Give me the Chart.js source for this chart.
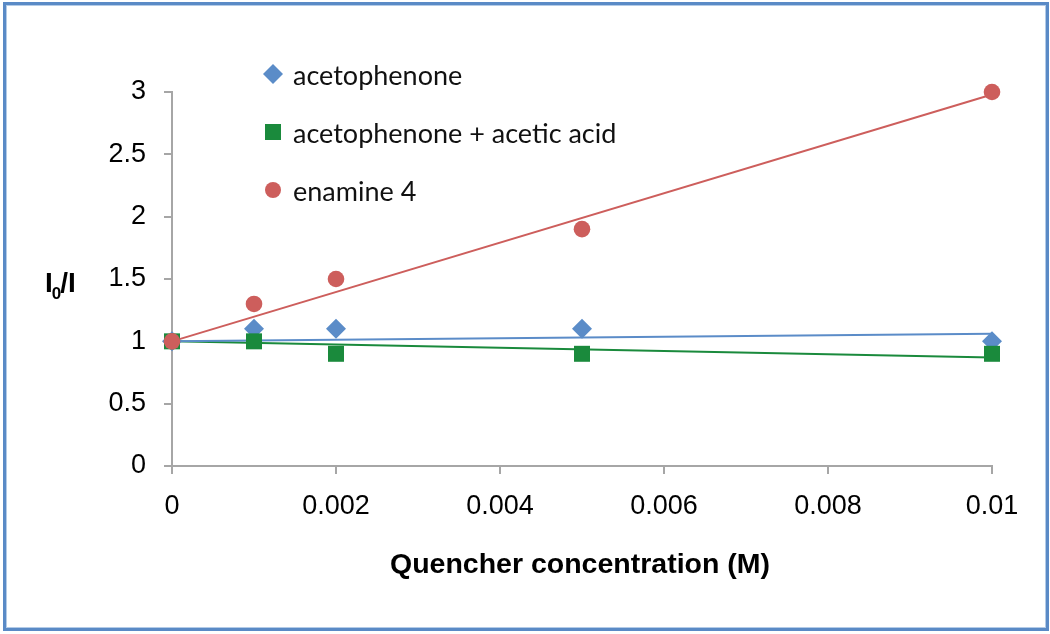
<!DOCTYPE html>
<html>
<head>
<meta charset="utf-8">
<script src="https://cdn.jsdelivr.net/npm/chart.js@4/dist/chart.umd.min.js"></script>
<style>
  html, body { margin: 0; padding: 0; background: #ffffff; }
  #wrap { width: 1050px; height: 634px; position: relative; }
</style>
</head>
<body>
<div id="wrap"><canvas id="c" width="1050" height="634"></canvas></div>
<script>
// ---- data ----
const concentrations = [0, 0.001, 0.002, 0.005, 0.01];
const acetophenone = [1.0, 1.1, 1.1, 1.1, 1.0];
const acetophenoneAcid = [1.0, 1.0, 0.9, 0.9, 0.9];
const enamine4 = [1.0, 1.3, 1.5, 1.9, 3.0];

const trendX = [0, 0.01];
const trendAcetophenone = [1.0, 1.06];
const trendAcetophenoneAcid = [1.0, 0.87];
const trendEnamine4 = [1.0, 2.98];

const seriesNames = ['acetophenone', 'acetophenone + acetic acid', 'enamine 4'];
const xTickLabels = ['0', '0.002', '0.004', '0.006', '0.008', '0.01'];
const yTickLabels = ['0', '0.5', '1', '1.5', '2', '2.5', '3'];
const xTitle = 'Quencher concentration (M)';

// ---- styles ----
const BLUE = '#5B8CC8';
const GREEN = '#1A8A3C';
const RED = '#CD5E5C';
const AXIS = '#A6A6A6';

function pts(xs, ys) { return xs.map((x, i) => ({ x: x, y: ys[i] })); }

const pointSets = [
  { name: seriesNames[0], data: acetophenone, color: BLUE, style: 'rectRot', r: 10, order: 3 },
  { name: seriesNames[1], data: acetophenoneAcid, color: GREEN, style: 'rect', r: 11.3, order: 2 },
  { name: seriesNames[2], data: enamine4, color: RED, style: 'circle', r: 8.3, order: 1 }
];
const trendSets = [
  { data: trendAcetophenone, color: BLUE },
  { data: trendAcetophenoneAcid, color: GREEN },
  { data: trendEnamine4, color: RED }
];

const datasets = [];
trendSets.forEach((t, i) => {
  datasets.push({
    type: 'line',
    label: 'trend ' + i,
    data: pts(trendX, t.data),
    borderColor: t.color,
    borderWidth: 2,
    pointRadius: 0,
    fill: false,
    clip: false,
    order: 10 + i
  });
});
pointSets.forEach(s => {
  datasets.push({
    type: 'scatter',
    label: s.name,
    data: pts(concentrations, s.data),
    backgroundColor: s.color,
    borderColor: s.color,
    borderWidth: 0,
    pointStyle: s.style,
    pointRadius: s.r,
    pointHoverRadius: s.r,
    showLine: false,
    clip: false,
    order: s.order
  });
});

const decorPlugin = {
  id: 'decor',
  afterDraw(chart) {
    const ctx = chart.ctx;
    ctx.save();
    // outer border
    ctx.strokeStyle = '#5A8AC6';
    ctx.lineWidth = 3;
    ctx.strokeRect(4.5, 3.5, 1043, 626);
    ctx.strokeStyle = 'rgba(160,190,225,0.8)';
    ctx.lineWidth = 1;
    ctx.strokeRect(6.5, 5.5, 1039, 622);

    // x axis title
    ctx.fillStyle = '#000';
    ctx.font = 'bold 28.5px "Liberation Sans", Arial, sans-serif';
    ctx.textAlign = 'center';
    ctx.textBaseline = 'alphabetic';
    ctx.fillText(xTitle, 580, 573);

    // y axis title I0/I
    ctx.textAlign = 'left';
    let x = 45;
    ctx.font = 'bold 28px "Liberation Sans", Arial, sans-serif';
    ctx.fillText('I', x, 292);
    x += ctx.measureText('I').width;
    ctx.font = 'bold 17px "Liberation Sans", Arial, sans-serif';
    ctx.fillText('0', x - 1, 299);
    x += ctx.measureText('0').width - 2;
    ctx.font = 'bold 28px "Liberation Sans", Arial, sans-serif';
    ctx.fillText('/I', x, 292);

    // legend
    const rows = [74, 132, 190];
    const mx = 273;
    pointSets.forEach((s, i) => {
      const y = rows[i];
      ctx.fillStyle = s.color;
      ctx.beginPath();
      if (s.style === 'rectRot') {
        const r = 10;
        ctx.moveTo(mx, y - r); ctx.lineTo(mx + r, y); ctx.lineTo(mx, y + r); ctx.lineTo(mx - r, y); ctx.closePath();
      } else if (s.style === 'rect') {
        ctx.rect(mx - 8, y - 8, 16, 16);
      } else {
        ctx.arc(mx, y, 8, 0, Math.PI * 2);
      }
      ctx.fill();
      ctx.fillStyle = '#111';
      ctx.font = '27px Lato, "Open Sans", sans-serif';
      ctx.textBaseline = 'middle';
      ctx.fillText(s.name, 293, y + 2);
    });
    ctx.restore();
  }
};

new Chart(document.getElementById('c'), {
  data: { datasets: datasets },
  options: {
    responsive: false,
    animation: false,
    events: [],
    layout: { padding: { left: 0, right: 58, top: 92, bottom: 0 } },
    plugins: { legend: { display: false }, tooltip: { enabled: false } },
    scales: {
      x: {
        type: 'linear',
        min: 0, max: 0.01,
        afterFit(s) { s.height = 168; },
        afterBuildTicks(s) { s.ticks = xTickLabels.map((l, i) => ({ value: i * 0.002 })); },
        ticks: {
          color: '#000',
          font: { family: '"Liberation Sans", Arial, sans-serif', size: 27 },
          padding: 16,
          maxRotation: 0,
          autoSkip: false,
          callback(v) { return xTickLabels[Math.round(v / 0.002)]; }
        },
        grid: { drawOnChartArea: false, drawTicks: true, tickLength: 8, color: AXIS, lineWidth: 2 },
        border: { color: AXIS, width: 2 }
      },
      y: {
        type: 'linear',
        min: 0, max: 3,
        afterFit(s) { s.width = 172; },
        afterBuildTicks(s) { s.ticks = yTickLabels.map((l, i) => ({ value: i * 0.5 })); },
        ticks: {
          color: '#000',
          font: { family: '"Liberation Sans", Arial, sans-serif', size: 27 },
          padding: 18,
          autoSkip: false,
          callback(v) { return yTickLabels[Math.round(v / 0.5)]; }
        },
        grid: { drawOnChartArea: false, drawTicks: true, tickLength: 8, color: AXIS, lineWidth: 2 },
        border: { color: AXIS, width: 2 }
      }
    }
  },
  plugins: [decorPlugin]
});
</script>
</body>
</html>
